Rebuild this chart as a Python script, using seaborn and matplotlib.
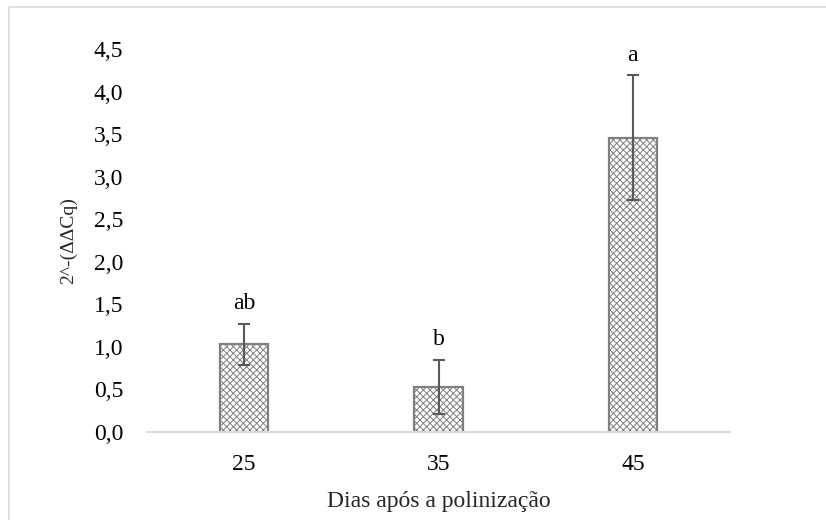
import matplotlib
matplotlib.use("Agg")
import matplotlib.pyplot as plt
from matplotlib.patches import Rectangle
import seaborn as sns
import pandas as pd

# Relative expression (2^-ΔΔCq) by days after pollination
days = ["25", "35", "45"]
means = [1.03, 0.53, 3.46]
errors = [0.24, 0.32, 0.73]
letters = ["ab", "b", "a"]
yticks = [0.0, 0.5, 1.0, 1.5, 2.0, 2.5, 3.0, 3.5, 4.0, 4.5]

sns.set_theme(style="white")
plt.rcParams["font.family"] = ["Liberation Serif", "DejaVu Serif"]
plt.rcParams["hatch.color"] = "#b3b3b3"
plt.rcParams["hatch.linewidth"] = 0.7

df = pd.DataFrame({"dias": days, "expr": means})

fig = plt.figure(figsize=(8.26, 5.2), dpi=100)
ax = fig.add_axes([147 / 826, 1 - 432 / 520, (730 - 147) / 826, (432 - 49) / 520])

sns.barplot(data=df, x="dias", y="expr", order=days, width=0.25,
            color="white", edgecolor="#808080", linewidth=1.6,
            errorbar=None, ax=ax)
for bar in ax.patches:
    bar.set_hatch("xxxxx")

xpos = range(len(days))
ax.errorbar(list(xpos), means, yerr=errors, fmt="none", ecolor="#595959",
            elinewidth=1.5, capsize=4.5, capthick=1.5, zorder=5)

for x, m, e, lab in zip(xpos, means, errors, letters):
    ax.annotate(lab, xy=(x, m + e), xytext=(0, 7), textcoords="offset points",
                ha="center", va="bottom", fontsize=17, color="#000000")

ax.set_xlim(-0.5, len(days) - 0.5)
ax.set_ylim(0, 4.5)
ax.set_yticks(yticks)
ax.set_yticklabels([f"{v:.1f}".replace(".", ",") for v in yticks])
ax.tick_params(axis="both", length=0, labelsize=17, colors="#000000")
ax.tick_params(axis="y", pad=17)
ax.tick_params(axis="x", pad=16)

ax.set_xlabel("Dias após a polinização", fontsize=17, labelpad=11)
ax.set_ylabel("2^-(ΔΔCq)", fontsize=14, labelpad=12)

for side in ("top", "right", "left"):
    ax.spines[side].set_visible(False)
ax.spines["bottom"].set_color("#d9d9d9")
ax.spines["bottom"].set_linewidth(1.5)
ax.grid(False)

# chart area frame
fig.patches.append(Rectangle((9 / 826, -0.1), 1.2, 1 - 7 / 520 + 0.1,
                             transform=fig.transFigure, fill=False,
                             edgecolor="#d9d9d9", linewidth=1.2))

fig.savefig("out.png", dpi=100, facecolor="white")
